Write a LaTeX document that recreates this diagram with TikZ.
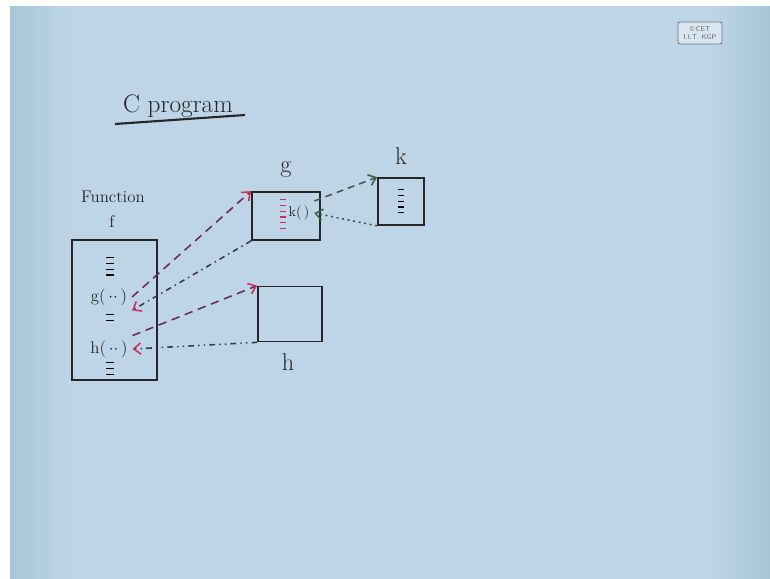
\documentclass[tikz,border=0pt]{standalone}
\usetikzlibrary{arrows.meta, positioning, calc}
\definecolor{boardblue}{RGB}{190,213,232}
\definecolor{boardedge}{RGB}{166,198,214}
\definecolor{callink}{RGB}{105,45,85}
\definecolor{retink}{RGB}{55,55,85}
\definecolor{tipred}{RGB}{205,45,95}
\definecolor{greenink}{RGB}{55,95,65}
\tikzset{
  callarr/.style  = {-{Straight Barb[length=5pt, width=8pt, color=tipred]}, line width=1.1pt, draw=callink, dash pattern=on 6pt off 4pt},
  retarr/.style   = {-{Straight Barb[length=5pt, width=8pt, color=tipred]}, line width=1.1pt, draw=retink, dash pattern=on 4pt off 3pt on 1pt off 3pt},
  gcallarr/.style = {-{Straight Barb[length=5pt, width=8pt]}, line width=1.1pt, draw=greenink, dash pattern=on 5pt off 3.5pt},
  gretarr/.style  = {-{Straight Barb[length=5pt, width=8pt]}, line width=1.1pt, draw=greenink, dash pattern=on 1.5pt off 2.5pt},
  %% Box presets
  fnbox/.style = {draw=black!85, line width=1.2pt, inner sep=0pt},
  lbl/.style   = {font=\LARGE, text=black!85},
  ticks/.style = {line width=5pt, dash pattern=on 0.9pt off 3.2pt},
}

\begin{document}
\begin{tikzpicture}[x=0.025cm, y=-0.025cm, every node/.style={text=black!85}]

%% ---- Board background ----
\useasboundingbox (0,0) rectangle (770,579);
\fill[white] (0,0) rectangle (770,579);
\fill[boardblue] (10,6) rectangle (770,579);
\shade[left color=boardedge, right color=boardblue] (10,6) rectangle (70,579);
\shade[left color=boardblue, right color=boardedge] (710,6) rectangle (770,579);

%% ---- Logo ----
\node[draw=black!55, fill=boardblue!60!white, rounded corners=1.5pt, line width=0.6pt,
      minimum width=1.1cm, minimum height=0.55cm, inner sep=1pt, align=center,
      font=\fontsize{5}{5.5}\selectfont\sffamily, text=black!60] (logo) at (700,33)
  {\copyright\,CET\\I.I.T. KGP};

%% ---- Title ----
\node[font=\fontsize{18}{22}\selectfont] (title) at (178,106) {C program};
\coordinate (ulA) at (115,124);
\coordinate (ulB) at (245,115);
\draw[line width=1.5pt, black!85] (ulA) -- (ulB);

%% ---- (1) Function f ----
\node[font=\large] (fname) at (113,197) {Function};
\node[font=\large] (fletter) at (112,222) {f};
\node[fnbox, minimum width=2.125cm, minimum height=3.5cm] (fbox) at (114.5,310) {};

\node[font=\large] (gcall) at (109,297) {g(\,$\cdot\cdot$\,)};
\node[font=\large] (hcall) at (109,349) {h(\,$\cdot\cdot$\,)};

\draw[ticks] (110,257) -- (110,276);
\draw[ticks] (110,314) -- (110,322);
\draw[ticks] (110,362) -- (110,377);

%% ---- (2) Function g ----
\node[fnbox, minimum width=1.7cm, minimum height=1.2cm] (gbox) at (286,216) {};
\node[lbl] (gname) at (286,170) {g};
\node (kcall) at (299,213) {k(\,)};
\draw[ticks, tipred, line width=4pt] (283,199) -- (283,232);

%% ---- (3) Function k ----
\node[fnbox, minimum width=1.15cm, minimum height=1.175cm] (kbox) at (401,201.5) {};
\node[lbl] (kname) at (401,156) {k};
\draw[ticks, line width=4pt] (401,189) -- (401,215);

%% ---- (4) Function h ----
\node[fnbox, minimum width=1.6cm, minimum height=1.375cm] (hbox) at (290,314) {};
\node[lbl] (hname) at (288,362) {h};

%% ---- Calls and returns ----
\draw[callarr] (gcall.east) -- (gbox.north west);
\draw[retarr] (gbox.south west) -- (gcall.south east);
\draw[callarr] (hcall.north east) -- (hbox.north west);
\draw[retarr, dash pattern=on 4pt off 3pt on 1pt off 3pt on 1pt off 3pt] (hbox.south west) -- (hcall.east);
\draw[gcallarr] (kcall.north east) -- (kbox.north west);
\draw[gretarr] (kbox.south west) -- (kcall.east);

\end{tikzpicture}
\end{document}
